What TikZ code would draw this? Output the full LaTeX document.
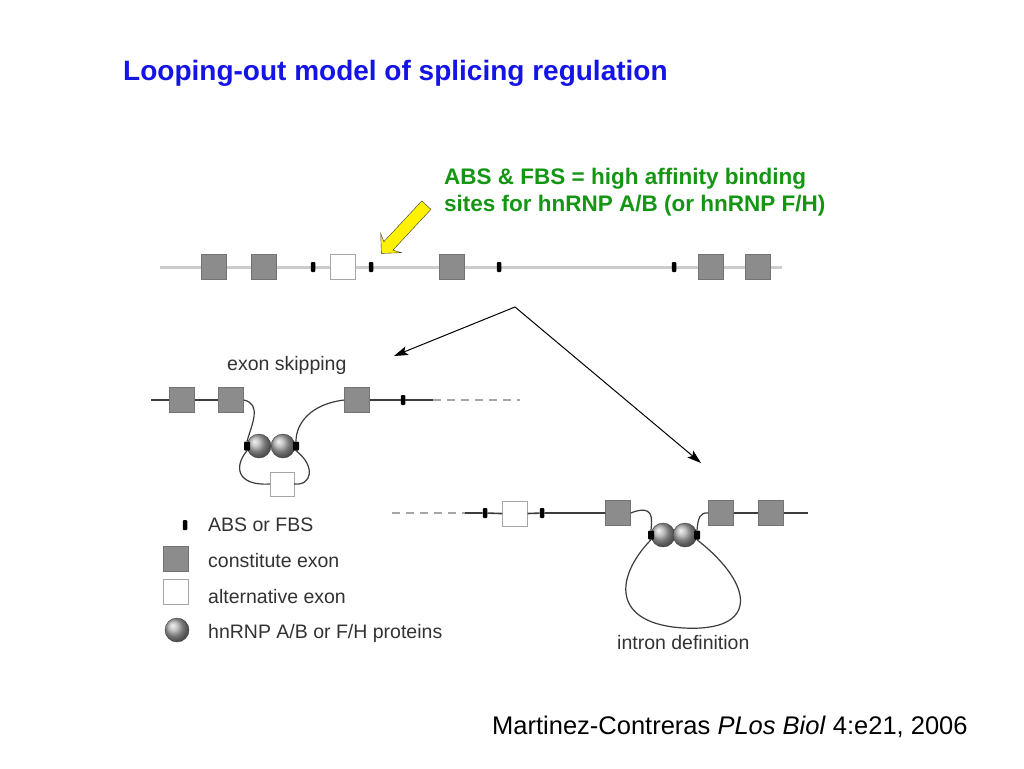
\documentclass[tikz,border=0pt]{standalone}
\usepackage{fontspec}
\setmainfont{Liberation Sans}
\usetikzlibrary{arrows,arrows.meta,positioning,shapes.arrows}
\definecolor{titleblue}{RGB}{20,20,230}
\definecolor{notegreen}{RGB}{20,150,20}
\definecolor{exongray}{RGB}{140,140,140}
\definecolor{strandgray}{RGB}{60,60,60}
\definecolor{labelgray}{RGB}{50,50,50}
\tikzset{
    %Define standard arrow tip
    >={Stealth[length=14pt,width=9pt,inset=3pt]},
    %Define style for exons
    exon/.style={
           rectangle,
           draw=black!55,
           fill=exongray,
           minimum width=25pt,
           minimum height=25pt,
           inner sep=0pt},
    altexon/.style={
           exon,
           draw=black!35,
           fill=white},
    site/.style={
           rectangle,
           rounded corners=1pt,
           fill=black,
           minimum width=4.5pt,
           minimum height=10pt,
           inner sep=0pt},
    protein/.style={
           circle,
           draw=black!75,
           ball color=gray!65,
           minimum size=24pt,
           inner sep=0pt},
    % Define line styles
    strand/.style={
           draw=strandgray,
           line width=1.6pt},
    loopline/.style={
           draw=strandgray,
           line width=1.2pt},
    premrna/.style={
           draw=black!20,
           line width=3pt},
    lbl/.style={
           anchor=base west,
           inner sep=0pt,
           text=labelgray,
           font=\fontsize{19.5}{23}\selectfont},
    pil/.style={
           ->,
           line width=1pt}
}
\begin{document}
\begin{tikzpicture}[x=1pt,y=-1pt]
\useasboundingbox (0,0) rectangle (1024,768);
 %title and note
\node[anchor=base west, inner sep=0pt, text=titleblue, font=\fontsize{28}{32}\selectfont\bfseries] (title) at (123,81) {Looping-out model of splicing regulation};
\node[anchor=north west, inner sep=0pt, align=left, text=notegreen, font=\fontsize{22.5}{27}\selectfont\bfseries] (note) at (444,168) {ABS \& FBS = high affinity binding\\sites for hnRNP A/B (or hnRNP F/H)};
\node[single arrow, draw=black!80, fill=yellow, rotate=227, minimum height=66pt, minimum width=28pt, inner sep=6pt, single arrow head extend=8pt, single arrow head indent=4pt] (hint) at (406,227) {};
\node[anchor=base west, inner sep=0pt, font=\fontsize{25.5}{30}\selectfont] (cite) at (492,734) {Martinez-Contreras \textit{PLos Biol} 4:e21, 2006};

 %pre-mRNA
\coordinate (pstart) at (160,267);
\coordinate (pend) at (782,267);
\draw[premrna] (pstart) -- (pend);
\node[exon] (t1) at (214,267) {};
\node[exon] (t2) at (264,267) {};
\node[site] (ts1) at (313,267) {};
\node[altexon] (ta) at (343,267) {};
\node[site] (ts2) at (371,267) {};
\node[exon] (t3) at (452,267) {};
\node[site] (ts3) at (499,267) {};
\node[site] (ts4) at (674,267) {};
\node[exon] (t4) at (711,267) {};
\node[exon] (t5) at (758,267) {};

 %arrows to the two models
\coordinate (split) at (515,307);
\coordinate (skiptip) at (394,356);
\coordinate (introntip) at (701,463);
\draw[pil] (split) -- (skiptip);
\draw[pil] (split) -- (introntip);

 %exon skipping
\node[lbl] (skiplbl) at (227,370) {exon skipping};
\coordinate (sstart) at (151,400);
\coordinate (send) at (433,400);
\coordinate (sdash) at (520,400);
\node[exon] (s1) at (182,400) {};
\node[exon] (s2) at (231,400) {};
\node[exon] (s3) at (357,400) {};
\node[site] (ss1) at (403,400) {};
\node[protein] (sp1) at (259,446) {};
\node[protein] (sp2) at (283,446) {};
\node[site, minimum width=6pt, minimum height=9pt] (sa) at (247,446) {};
\node[site, minimum width=6pt, minimum height=9pt] (sb) at (296,446) {};
\node[altexon, minimum width=24pt, minimum height=24pt] (sw) at (282,484) {};
\draw[strand] (sstart) -- (s1) -- (s2);
\draw[strand] (s3) -- (ss1) -- (send);
\draw[strand, draw=black!35, dashed, dash pattern=on 8pt off 6pt] (send) -- (sdash);
\draw[loopline] (s2.east) .. controls (262,404) and (252,424) .. (sa.north);
\draw[loopline] (s3.west) .. controls (310,404) and (296,424) .. (sb.north);
\draw[loopline] (sa.south) .. controls (234,466) and (236,486) .. (sw.west);
\draw[loopline] (sb.south) .. controls (316,466) and (312,486) .. (sw.east);

 %intron definition
\node[lbl] (intronlbl) at (617,649) {intron definition};
\coordinate (idash) at (392,513);
\coordinate (istart) at (465,513);
\coordinate (iend) at (808,513);
\coordinate (loopbottom) at (684,628);
\node[site] (is1) at (485,513) {};
\node[altexon] (ia) at (515,514) {};
\node[site] (is2) at (542,513) {};
\node[exon] (i1) at (618,513) {};
\node[protein] (ip1) at (663,535) {};
\node[protein] (ip2) at (685,535) {};
\node[site, minimum width=6pt, minimum height=9pt] (ib) at (651,535) {};
\node[site, minimum width=6pt, minimum height=9pt] (ic) at (697,535) {};
\node[exon] (i2) at (721,513) {};
\node[exon] (i3) at (771,513) {};
\draw[strand, draw=black!35, dashed, dash pattern=on 8pt off 6pt] (idash) -- (istart);
\draw[strand] (istart) -- (is1) -- (ia) -- (is2) -- (i1);
\draw[strand] (i2) -- (i3) -- (iend);
\draw[loopline] (i1.east) .. controls (654,504) and (652,518) .. (ib.north);
\draw[loopline] (ic.north) .. controls (698,518) and (700,512) .. (i2.west);
\draw[loopline] (ib.south) .. controls (614,578) and (612,624) .. (loopbottom) .. controls (758,632) and (756,586) .. (ic.south);

 %legend
\node[site] (lsite) at (185,525) {};
\node[lbl] (lsitetxt) at (208,531) {ABS or FBS};
\node[exon] (lexon) at (176,559) {};
\node[lbl] (lexontxt) at (208,567) {constitute exon};
\node[altexon] (lalt) at (176,592) {};
\node[lbl] (lalttxt) at (208,603) {alternative exon};
\node[protein] (lprot) at (177,630) {};
\node[lbl] (lprottxt) at (208,638) {hnRNP A/B or F/H proteins};
\end{tikzpicture}
\end{document}
